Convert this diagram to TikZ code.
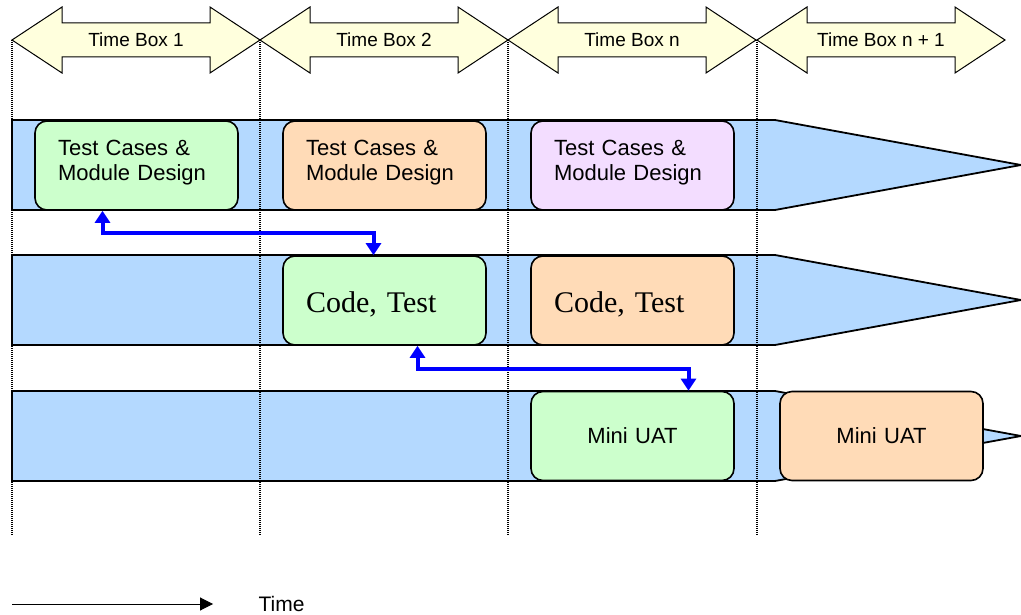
\documentclass[tikz,border=0pt]{standalone}
\usepackage{fontspec}
\setmainfont{Liberation Sans}
\newfontfamily\codefont{Liberation Serif}
\usetikzlibrary{arrows.meta}
\definecolor{lanefill}{HTML}{B4D9FF}
\definecolor{boxgreen}{HTML}{CCFFCC}
\definecolor{boxorange}{HTML}{FFDBB7}
\definecolor{boxpurple}{HTML}{F3DDFF}
\definecolor{tbfill}{HTML}{FFFFDD}
\tikzset{
  lane/.style={draw, fill=lanefill, line width=1.8pt},
  task/.style={draw, line width=1.6pt, rounded corners=12pt, minimum width=203pt,
    minimum height=89pt, inner xsep=23pt, inner ysep=0pt, text width=157pt,
    align=left, font=\fontsize{22}{25}\selectfont},
  designtext/.style={text height=16pt, text depth=36pt},
  codetext/.style={font=\codefont\fontsize{30}{34}\selectfont, text height=27pt, text depth=4pt},
  link/.style={draw=blue, line width=4pt,
    {Triangle[width=15pt,length=12pt]}-{Triangle[width=15pt,length=12pt]}},
  tblabel/.style={font=\fontsize{19}{22}\selectfont}
}
\begin{document}
\begin{tikzpicture}[x=1pt,y=-1pt]
    \useasboundingbox (0,0) rectangle (1021,615);
    % time boxes
    \foreach \x/\lbl [count=\i] in {12/Time Box 1,260/Time Box 2,508/Time Box n,757/Time Box n + 1}
    {
    \draw[fill=tbfill, line width=1pt] (\x,40) -- (\x+50,7) -- (\x+50,23) -- (\x+198,23) -- (\x+198,7)
      -- (\x+248,40) -- (\x+198,73) -- (\x+198,57) -- (\x+50,57) -- (\x+50,73) -- cycle;
    \node[tblabel] (tb\i) at (\x+124,40) {\lbl};
    }
    % lanes
    \foreach \y in {165,300,436}
    {
    \draw[lane] (12,\y-45) -- (775,\y-45) -- (1021,\y) -- (775,\y+45) -- (12,\y+45) -- cycle;
    }
    \foreach \x in {12,260,508,757}
    {
    \draw[line width=1.1pt, dash pattern=on 1pt off 1pt] (\x,40) -- (\x,535);
    }
    % tasks
    \node[task, designtext, fill=boxgreen] (design1) at (136.5,165.5) {Test Cases \&\\Module Design};
    \node[task, designtext, fill=boxorange] (design2) at (384.5,165.5) {Test Cases \&\\Module Design};
    \node[task, designtext, fill=boxpurple] (design3) at (632.5,165.5) {Test Cases \&\\Module Design};
    \node[task, codetext, fill=boxgreen] (code1) at (384.5,300.5) {Code, Test};
    \node[task, codetext, fill=boxorange] (code2) at (632.5,300.5) {Code, Test};
    \node[task, fill=boxgreen, align=center] (uat1) at (632.5,436) {Mini UAT};
    \node[task, fill=boxorange, align=center] (uat2) at (881.5,436) {Mini UAT};
    % hand-overs
    \draw[link] ([xshift=-34pt]design1.south) -- ++(0,22.5) -| ([xshift=-11pt]code1.north);
    \draw[link] ([xshift=33pt]code1.south) -- ++(0,23) -| ([xshift=56pt]uat1.north);
    % time axis
    \node[font=\fontsize{21}{24}\selectfont] (timelbl) at (281.5,604) {Time};
    \coordinate (tstart) at (12,604);
    \draw[line width=1pt, -{Triangle[width=13pt,length=13pt]}] (tstart) -- ([xshift=-42pt]timelbl.west);
\end{tikzpicture}
\end{document}
